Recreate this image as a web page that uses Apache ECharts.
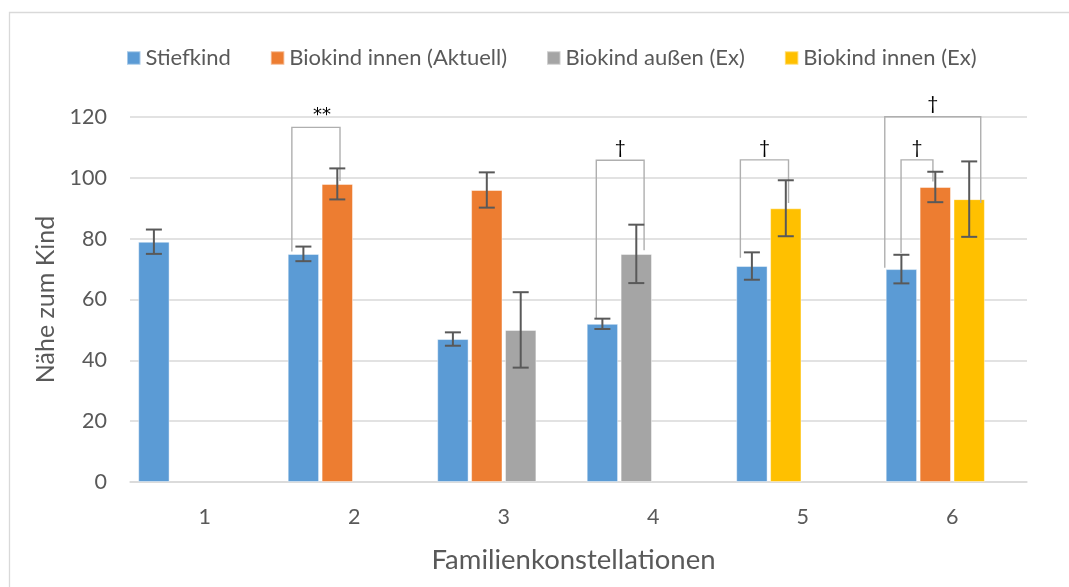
<!DOCTYPE html>
<html>
<head>
<meta charset="utf-8">
<script src="https://cdn.jsdelivr.net/npm/echarts@6/dist/echarts.min.js"></script>
<style>
  html, body { margin: 0; padding: 0; background: #fff; }
  #chart { width: 1069px; height: 587px; }
</style>
</head>
<body>
<div id="chart"></div>
<script>
// Family constellations on the x axis
const categories = ['1', '2', '3', '4', '5', '6'];
const seriesNames = ['Stiefkind', 'Biokind innen (Aktuell)', 'Biokind außen (Ex)', 'Biokind innen (Ex)'];
const seriesColors = ['#5B9BD5', '#ED7D31', '#A5A5A5', '#FFC000'];

// Mean closeness per child type, with error half-widths
const stiefkind              = [79, 75, 47, 52, 71, 70];
const stiefkindErr           = [4, 2.4, 2.2, 1.7, 4.5, 4.7];
const biokindInnenAktuell    = [null, 98, 96, null, null, 97];
const biokindInnenAktuellErr = [null, 5.1, 5.8, null, null, 5];
const biokindAussenEx        = [null, null, 50, 75, null, null];
const biokindAussenExErr     = [null, null, 12.4, 9.6, null, null];
const biokindInnenEx         = [null, null, null, null, 90, 93];
const biokindInnenExErr      = [null, null, null, null, 9.2, 12.4];

const yTicks = [0, 20, 40, 60, 80, 100, 120];

// Significance brackets: [category, left end (slot), right end (slot), top, left leg end, right leg end]
const brackets = [
  [1, -0.34, 1.08, 116.6, 75.8, 99],
  [3, -0.18, 1.23, 105.8, 53.8, 76.2],
  [4, -0.34, 1.08, 105.9, 73.7, 91.7],
  [5, -0.01, 0.93, 105.9, 75.3, 98.8],
  [5, -0.49, 2.34, 120.1, 70.4, 91.7]
];
const bracketLabels = ['**', '†', '†', '†', '†'];

const values = [stiefkind, biokindInnenAktuell, biokindAussenEx, biokindInnenEx];
const errors = [stiefkindErr, biokindInnenAktuellErr, biokindAussenExErr, biokindInnenExErr];

// Bars in each group are packed from the left: series present in a category
// take consecutive slots in series order; a group always has room for four.
const SLOTS = 4;
const BAR_WIDTH = 0.21;   // share of the category band
const BAR_GAP = 0.08;     // share of the bar width
const slotOf = values.map(() => categories.map(() => null));
categories.forEach((c, i) => {
  let k = 0;
  values.forEach((arr, s) => { if (arr[i] != null) slotOf[s][i] = k++; });
});

const FONT = 'Lato, "Open Sans", sans-serif';
const TEXT = '#595959';

const series = [];
for (let k = 0; k < SLOTS; k++) {
  let used = false;
  values.forEach((arr, s) => {
    const data = arr.map((v, i) => (slotOf[s][i] === k ? v : null));
    if (data.every(v => v == null)) return;
    used = true;
    series.push({
      type: 'bar', name: seriesNames[s], stack: 'slot' + k, data,
      barWidth: (BAR_WIDTH * 100) + '%', barGap: (BAR_GAP * 100) + '%',
      itemStyle: { color: seriesColors[s], borderColor: 'rgba(255,255,255,0.45)', borderWidth: 1 },
      emphasis: { disabled: true }
    });
  });
  if (!used) {
    series.push({
      type: 'bar', name: 'slot' + k, stack: 'slot' + k, data: categories.map(() => null),
      barWidth: (BAR_WIDTH * 100) + '%', barGap: (BAR_GAP * 100) + '%'
    });
  }
}

function slotX(api, cat, slot) {
  const c = api.coord([cat, 0])[0];
  const band = api.size([1, 0])[0];
  const bw = band * BAR_WIDTH;
  const gap = bw * BAR_GAP;
  const total = SLOTS * bw + (SLOTS - 1) * gap;
  return c - total / 2 + slot * (bw + gap) + bw / 2;
}

// Error bars
const errData = [];
values.forEach((arr, s) => arr.forEach((v, i) => {
  if (v != null) errData.push([i, slotOf[s][i], v, errors[s][i]]);
}));
series.push({
  type: 'custom', name: 'errors', data: errData, encode: { x: 0, y: 2 }, z: 5,
  renderItem: (params, api) => {
    const cat = api.value(0), slot = api.value(1), v = api.value(2), e = api.value(3);
    const x = slotX(api, cat, slot);
    const yTop = api.coord([cat, v + e])[1];
    const yBot = api.coord([cat, v - e])[1];
    const cap = 8;
    const style = { stroke: '#595959', lineWidth: 2, fill: null };
    return {
      type: 'group', children: [
        { type: 'line', shape: { x1: x, y1: yTop, x2: x, y2: yBot }, style },
        { type: 'line', shape: { x1: x - cap, y1: yTop, x2: x + cap, y2: yTop }, style },
        { type: 'line', shape: { x1: x - cap, y1: yBot, x2: x + cap, y2: yBot }, style }
      ]
    };
  }
});

// Significance brackets with their markers
series.push({
  type: 'custom', name: 'brackets', data: brackets, encode: { x: 0, y: 3 }, z: 4, clip: false,
  renderItem: (params, api) => {
    const cat = api.value(0);
    const xl = slotX(api, cat, api.value(1));
    const xr = slotX(api, cat, api.value(2));
    const yTop = api.coord([cat, api.value(3)])[1];
    const yl = api.coord([cat, api.value(4)])[1];
    const yr = api.coord([cat, api.value(5)])[1];
    const label = bracketLabels[params.dataIndex];
    const stars = label === '**';
    return {
      type: 'group', children: [
        { type: 'polyline', shape: { points: [[xl, yl], [xl, yTop], [xr, yTop], [xr, yr]] },
          style: { stroke: '#AFAFAF', lineWidth: 1.4, fill: null } },
        { type: 'text', style: {
            text: label, x: (xl + xr) / 2 + (stars ? 6 : 0), y: yTop - 3,
            align: 'center', verticalAlign: 'bottom', fill: '#000',
            font: stars ? '18px "DejaVu Sans", sans-serif' : '19px ' + FONT } }
      ]
    };
  }
});

const chart = echarts.init(document.getElementById('chart'), null, { renderer: 'canvas' });
chart.setOption({
  animation: false,
  backgroundColor: '#fff',
  textStyle: { fontFamily: FONT },
  graphic: [{
    type: 'rect', shape: { x: 9.5, y: 12.5, width: 1100, height: 620 },
    style: { fill: 'none', stroke: '#D9D9D9', lineWidth: 1.3 }, silent: true, z: -1
  }],
  legend: {
    data: seriesNames, top: 47, left: 126, padding: 0, itemWidth: 13.5, itemHeight: 13.5, itemGap: 39,
    icon: 'rect', textStyle: { color: TEXT, fontSize: 22, fontFamily: FONT }
  },
  grid: { left: 130, right: 42, top: 117, bottom: 105, containLabel: false },
  xAxis: {
    type: 'category', data: categories,
    name: 'Familienkonstellationen', nameLocation: 'middle', nameGap: 64,
    nameTextStyle: { color: TEXT, fontSize: 27.5, fontFamily: FONT, padding: [0, 10, 0, 0] },
    axisLine: { lineStyle: { color: '#D9D9D9', width: 1.5 } },
    axisTick: { show: false },
    axisLabel: { color: TEXT, fontSize: 21.5, margin: 24, fontFamily: FONT }
  },
  yAxis: {
    type: 'value', min: yTicks[0], max: yTicks[yTicks.length - 1], interval: yTicks[1] - yTicks[0],
    name: 'Nähe zum Kind', nameLocation: 'middle', nameGap: 71, nameRotate: 90,
    nameTextStyle: { color: TEXT, fontSize: 25, fontFamily: FONT },
    axisLine: { show: false }, axisTick: { show: false },
    axisLabel: { color: TEXT, fontSize: 21.5, margin: 23, fontFamily: FONT },
    splitLine: { lineStyle: { color: '#D9D9D9', width: 1.5 } }
  },
  series
});
</script>
</body>
</html>
